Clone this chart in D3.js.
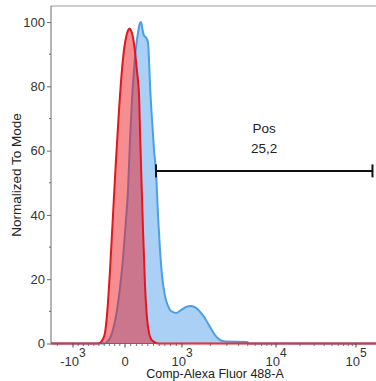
<!DOCTYPE html>
<html>
<head>
<meta charset="utf-8">
<script src="https://cdn.jsdelivr.net/npm/d3@7"></script>
<style>
  html, body { margin: 0; padding: 0; background: #fff; }
  svg { display: block; font-family: "Liberation Sans", Arial, sans-serif; }
</style>
</head>
<body>
<svg id="chart" width="376" height="381"></svg>
<script>
// ---- data (x in display/decade units of the biexponential axis: -1 = -10^3, 0 = 0, 1 = 10^3, 2 = 10^4, 3 = 10^5)
const xTickPos   = [-1, 0, 1, 2, 3];
const xTickBase  = ["-10", "0", "10", "10", "10"];
const xTickExp   = ["3", "", "3", "4", "5"];
const yTicks     = [0, 20, 40, 60, 80, 100];

// control (red) histogram, normalized to mode
const redX = [-1.423, -0.519, -0.462, -0.423, -0.385, -0.346, -0.288, -0.231, -0.173, -0.115, -0.058, -0.019,
              0.018, 0.053, 0.079, 0.105, 0.140, 0.175, 0.211, 0.246, 0.263, 0.289, 0.316, 0.351, 0.386,
              0.421, 0.456, 0.509, 0.579, 3.25];
const redY = [0, 0, 0.5, 1.4, 3.3, 8.9, 22.9, 40.0, 57.2, 72.7, 85.2, 91.4,
              95.2, 97.4, 98.0, 97.4, 95.2, 90.8, 84.6, 77.4, 66.4, 50.9, 35.4, 18.2, 7.9,
              3.3, 1.4, 0.5, 0, 0];

// stained (blue) histogram, normalized to mode
const blueX = [-1.423, -0.385, -0.327, -0.269, -0.212, -0.154, -0.096, -0.038, 0.018, 0.053, 0.088, 0.123,
               0.158, 0.193, 0.228, 0.254, 0.281, 0.307, 0.333, 0.368, 0.404, 0.421, 0.439, 0.474, 0.509,
               0.544, 0.579, 0.614, 0.649, 0.702, 0.754, 0.807, 0.895, 0.982, 1.043, 1.096, 1.149, 1.202,
               1.255, 1.298, 1.351, 1.404, 1.457, 1.691, 1.713, 3.25];
const blueY = [0, 0, 0.8, 2.3, 5.5, 10.4, 17.3, 26.6, 38.5, 47.8, 63.4, 75.9,
               85.2, 92.1, 96.7, 99.2, 100, 97.7, 95.8, 95.2, 93.6, 88.3, 80.5, 69.6, 60.3,
               53.4, 40.0, 29.1, 21.3, 14.8, 11.7, 10.1, 9.5, 10.4, 11.4, 11.7, 11.1, 9.5,
               7.3, 5.1, 2.6, 1.1, 0.6, 0.5, 0, 0];

// gate
const gateName  = "Pos";
const gateValue = "25,2";
const gateRange = [0.544, 3.206];
const gateLevel = 53.7;

// ---- layout
const svg = d3.select("#chart");
const plot = { left: 51, right: 376, top: 6, bottom: 343.5 };

const x = d3.scaleLinear()
  .domain([-1, 0, 1, 2, 3])
  .range([73, 125, 182, 276, 356]);
const xDomain = [-1.423, 3.25];

const y = d3.scaleLinear().domain([0, 105]).range([plot.bottom, plot.top]);

// clip
svg.append("defs").append("clipPath").attr("id", "clip")
  .append("rect")
  .attr("x", plot.left).attr("y", plot.top - 1)
  .attr("width", plot.right - plot.left).attr("height", plot.bottom - plot.top + 3);

const area = d3.area().x(d => x(d[0])).y0(y(0)).y1(d => y(d[1])).curve(d3.curveMonotoneX);
const line = d3.line().x(d => x(d[0])).y(d => y(d[1])).curve(d3.curveMonotoneX);

const blue = blueX.map((v, i) => [v, blueY[i]]);
const red  = redX.map((v, i) => [v, redY[i]]);

const g = svg.append("g").attr("clip-path", "url(#clip)");
g.append("path").datum(blue).attr("d", area).attr("fill", "#aad0f6");
g.append("path").datum(blue).attr("d", line).attr("fill", "none")
  .attr("stroke", "#4b9fe6").attr("stroke-width", 2);
g.append("path").datum(red).attr("d", area).attr("fill", "#ec1c24").attr("fill-opacity", 0.5);

// ---- axes
const axisColor = "#6a6a6a";
// top frame line
svg.append("line")
  .attr("x1", plot.left).attr("x2", plot.right)
  .attr("y1", plot.top).attr("y2", plot.top)
  .attr("stroke", "#9a9a9a").attr("stroke-width", 1);

// y axis
const yAxis = svg.append("g").attr("transform", `translate(${plot.left},0)`)
  .call(d3.axisLeft(y).tickValues(yTicks).tickSize(4).tickPadding(2).tickFormat(d3.format("d")));
yAxis.select(".domain").attr("stroke", axisColor).attr("d", `M0,${plot.top}V${plot.bottom}`);
yAxis.selectAll(".tick line").attr("stroke", axisColor);
yAxis.selectAll(".tick text").attr("font-size", 13).attr("fill", "#333")
  .attr("font-family", "Liberation Sans, Arial, sans-serif");
// y minor ticks
const yMinor = d3.range(10, 105, 20);
svg.append("g").selectAll("line").data(yMinor).join("line")
  .attr("x1", plot.left - 2).attr("x2", plot.left)
  .attr("y1", d => y(d)).attr("y2", d => y(d))
  .attr("stroke", axisColor);

// x axis
const xAxisG = svg.append("g").attr("transform", `translate(0,${plot.bottom})`);
xAxisG.append("line").attr("x1", plot.left).attr("x2", plot.right)
  .attr("y1", 0).attr("y2", 0).attr("stroke", axisColor);

// minor ticks in decade units
const xMinor = [];
for (let k = 1; k <= 9; k++) { xMinor.push(k / 10); xMinor.push(-k / 10); }
for (let n = 3; n <= 5; n++) {
  for (let k = 2; k <= 9; k++) {
    xMinor.push(n - 2 + Math.log10(k));
    xMinor.push(-(n - 2 + Math.log10(k)));
  }
}
xAxisG.selectAll("line.minor").data(xMinor.filter(u => u > xDomain[0] && u < xDomain[1]))
  .join("line").attr("class", "minor")
  .attr("x1", d => x(d)).attr("x2", d => x(d)).attr("y1", 0).attr("y2", 2.5)
  .attr("stroke", "#555").attr("stroke-width", 0.8);
xAxisG.selectAll("line.major").data(xTickPos).join("line").attr("class", "major")
  .attr("x1", d => x(d)).attr("x2", d => x(d)).attr("y1", 0).attr("y2", 4)
  .attr("stroke", "#444");

const labels = xAxisG.selectAll("text.tl").data(xTickPos).join("text").attr("class", "tl")
  .attr("x", d => x(d)).attr("y", 22.5)
  .attr("text-anchor", "middle").attr("font-size", 13).attr("fill", "#333");
labels.each(function(d, i) {
  const t = d3.select(this);
  t.append("tspan").text(xTickBase[i]);
  if (xTickExp[i]) {
    t.append("tspan").attr("dy", -9).attr("font-size", 12).text(xTickExp[i]);
  }
});

// red outline drawn last (incl. baseline)
g.append("path").datum(red).attr("d", line).attr("fill", "none")
  .attr("stroke", "#e3161e").attr("stroke-width", 2);

// ---- gate
const gy = y(gateLevel);
const gate = svg.append("g").attr("stroke", "#111").attr("stroke-width", 2);
gate.append("line").attr("x1", x(gateRange[0])).attr("x2", x(gateRange[1])).attr("y1", gy).attr("y2", gy);
gate.append("line").attr("x1", x(gateRange[0])).attr("x2", x(gateRange[0])).attr("y1", gy - 6.5).attr("y2", gy + 6.5);
gate.append("line").attr("x1", x(gateRange[1])).attr("x2", x(gateRange[1])).attr("y1", gy - 6.5).attr("y2", gy + 6.5);
const gcx = (x(gateRange[0]) + x(gateRange[1])) / 2;
svg.append("text").attr("x", gcx).attr("y", gy - 38).attr("text-anchor", "middle")
  .attr("font-size", 13.5).attr("fill", "#222").text(gateName);
svg.append("text").attr("x", gcx).attr("y", gy - 18).attr("text-anchor", "middle")
  .attr("font-size", 13.5).attr("fill", "#222").text(gateValue);

// ---- titles
svg.append("text").attr("transform", `translate(21,175) rotate(-90)`)
  .attr("text-anchor", "middle").attr("font-size", 13.5).attr("fill", "#222")
  .text("Normalized To Mode");
svg.append("text").attr("x", 215).attr("y", 378).attr("text-anchor", "middle")
  .attr("font-size", 12.5).attr("fill", "#222")
  .text("Comp-Alexa Fluor 488-A");
</script>
</body>
</html>
